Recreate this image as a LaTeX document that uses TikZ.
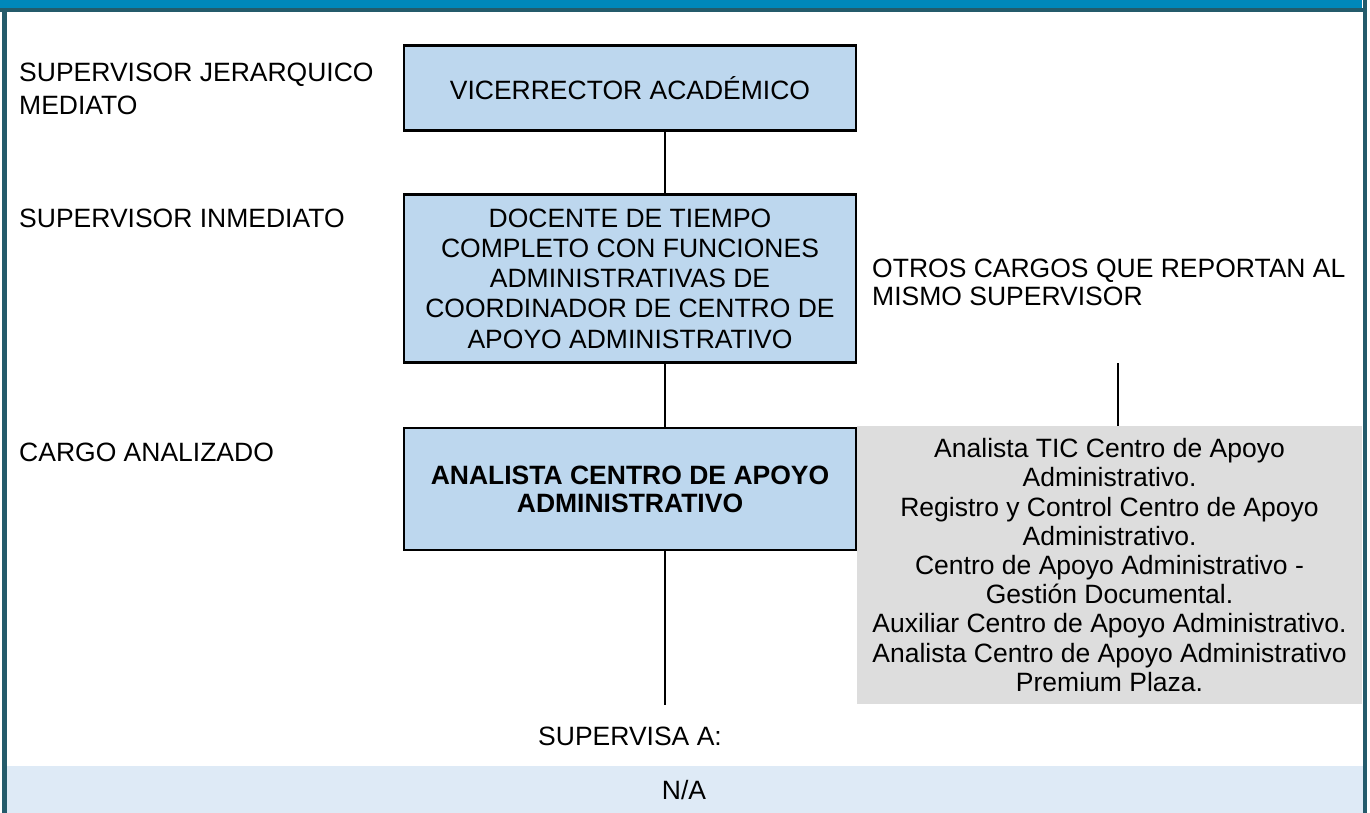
\documentclass[tikz,border=0pt]{standalone}
\usepackage{fontspec}
\setmainfont{Liberation Sans}
\definecolor{topblue}{HTML}{0088BB}
\definecolor{framecol}{HTML}{245B6B}
\definecolor{boxblue}{HTML}{BDD7EE}
\definecolor{boxgray}{HTML}{DDDDDD}
\definecolor{bandblue}{HTML}{DEEAF6}
\begin{document}
\begin{tikzpicture}[x=1pt,y=-1pt,
  font=\fontsize{26.5}{30}\selectfont,
  box/.style={draw=black, line width=2.5pt, fill=boxblue, minimum width=452pt, inner sep=0pt, align=center},
  lbl/.style={inner sep=0pt, align=left},
  conn/.style={line width=2pt}]
\useasboundingbox (0,0) rectangle (1370,813);
\fill[white] (0,0) rectangle (1370,813);
\fill[topblue] (0,0) rectangle (1362,8);
\fill[framecol] (0,8) rectangle (1367,12);
\fill[framecol] (2,8) rectangle (6.5,813);
\fill[framecol] (1362.5,0) rectangle (1367,813);
\fill[bandblue] (6.5,766) rectangle (1362.5,813);
% boxes
\node[box, minimum height=85pt] (b1) at (630,88) {VICERRECTOR ACADÉMICO};
\node[box, minimum height=168pt, font=\fontsize{26.5}{30.3}\selectfont] (b2) at (630,278.5)
  {DOCENTE DE TIEMPO\\COMPLETO CON FUNCIONES\\ADMINISTRATIVAS DE\\COORDINADOR DE CENTRO DE\\APOYO ADMINISTRATIVO};
\node[box, minimum height=122pt, font=\fontsize{26.5}{28}\selectfont\bfseries] (b3) at (630,489)
  {ANALISTA CENTRO DE APOYO\\ADMINISTRATIVO};
\node[fill=boxgray, minimum width=505pt, minimum height=278pt, inner sep=0pt, align=center,
  font=\fontsize{26.5}{29.2}\selectfont] (g) at (1109.5,565)
  {Analista TIC Centro de Apoyo\\Administrativo.\\Registro y Control Centro de Apoyo\\Administrativo.\\Centro de Apoyo Administrativo -\\Gestión Documental.\\Auxiliar Centro de Apoyo Administrativo.\\Analista Centro de Apoyo Administrativo\\Premium Plaza.};
% connectors
\coordinate (ax) at (665,0);
\draw[conn] (b1.south -| ax) -- (b2.north -| ax);
\draw[conn] (b2.south -| ax) -- (b3.north -| ax);
\coordinate (b3end) at (665,705);
\draw[conn] (b3.south -| ax) -- (b3end);
\coordinate (otrend) at (1118,363);
\draw[conn] (otrend) -- (g.north -| otrend);
% labels
\node[lbl, anchor=west, font=\fontsize{26.5}{33}\selectfont] (l1) at (19,89) {SUPERVISOR JERARQUICO\\MEDIATO};
\node[lbl, anchor=base west] (l2) at (19,227) {SUPERVISOR INMEDIATO};
\node[lbl, anchor=base west] (l3) at (19,461) {CARGO ANALIZADO};
\node[lbl, anchor=west, font=\fontsize{26.5}{28}\selectfont] (otros) at (872,282) {OTROS CARGOS QUE REPORTAN AL\\MISMO SUPERVISOR};
\node[inner sep=0pt, anchor=base] (sup) at (630,745) {SUPERVISA A:};
\node[inner sep=0pt, anchor=base] (na) at (684,799) {N/A};
\end{tikzpicture}
\end{document}
